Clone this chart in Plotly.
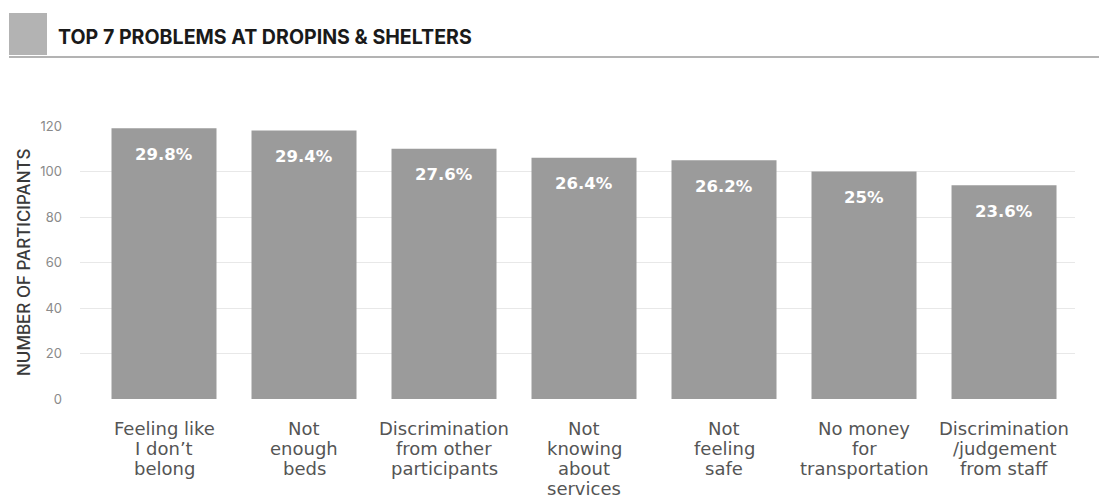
import plotly.graph_objects as go

# Survey data: top problems reported at drop-ins and shelters
categories = [
    ["Feeling like", "I don\u2019t", "belong"],
    ["Not", "enough", "beds"],
    ["Discrimination", "from other", "participants"],
    ["Not", "knowing", "about", "services"],
    ["Not", "feeling", "safe"],
    ["No money", "for", "transportation"],
    ["Discrimination", "/judgement", "from staff"],
]
participants = [119, 118, 110, 106, 105, 100, 94]
pct_labels = ["29.8%", "29.4%", "27.6%", "26.4%", "26.2%", "25%", "23.6%"]
y_ticks = [0, 20, 40, 60, 80, 100, 120]

x_pos = list(range(len(categories)))

W, H = 1099, 500
pl, pr, pt, pb = 80, 24, 126, 101
pw, ph = W - pl - pr, H - pt - pb


def px_x(x):
    return (x - pl) / pw


def px_y(y):
    return (H - pb - y) / ph


fig = go.Figure()
fig.add_trace(go.Bar(
    x=x_pos,
    y=participants,
    width=0.75,
    marker=dict(color="#9b9b9b", line=dict(width=0)),
    hoverinfo="skip",
))

# percentage labels just inside the top of each bar
for xi, v, lab in zip(x_pos, participants, pct_labels):
    fig.add_annotation(
        x=xi, y=v, text=lab, showarrow=False,
        yanchor="middle", yshift=-26,
        font=dict(family="DejaVu Sans, sans-serif", size=16.5, color="white", weight=600),
    )

# multi-line category labels under each bar
for xi, lines in zip(x_pos, categories):
    for li, line in enumerate(lines):
        fig.add_annotation(
            x=xi, xref="x", y=0, yref="paper",
            text=line, showarrow=False,
            xanchor="center", yanchor="middle",
            yshift=-(29 + li * 20),
            font=dict(family="DejaVu Sans, sans-serif", size=18, color="#555555"),
        )

# vertical axis title
fig.add_annotation(
    xref="paper", yref="paper", x=px_x(24), y=px_y(262),
    text="NUMBER OF PARTICIPANTS", textangle=-90, showarrow=False,
    xanchor="center", yanchor="middle",
    font=dict(family="Inter, Lato, sans-serif", size=17, color="#3a3a3a", weight=500),
)

# header: square marker, title and rule
fig.add_shape(type="rect", xref="paper", yref="paper",
              x0=px_x(9), x1=px_x(47), y0=px_y(55), y1=px_y(13),
              fillcolor="#b3b3b3", line=dict(width=0), layer="above")
fig.add_shape(type="line", xref="paper", yref="paper",
              x0=px_x(9), x1=px_x(1099), y0=px_y(57), y1=px_y(57),
              line=dict(color="#9a9a9a", width=1.5), layer="above")
fig.add_annotation(
    xref="paper", yref="paper", x=px_x(56), y=px_y(37),
    xanchor="left", yanchor="middle", showarrow=False,
    text="<b>TOP 7 PROBLEMS AT DROPINS &amp; SHELTERS</b>",
    font=dict(family="Inter, Lato, sans-serif", size=19.6, color="#1a1a1a"),
)

fig.update_layout(
    width=W, height=H,
    margin=dict(l=pl, r=pr, t=pt, b=pb),
    plot_bgcolor="white", paper_bgcolor="white",
    showlegend=False,
    bargap=0.25,
    xaxis=dict(
        range=[-0.6, 6.507],
        showticklabels=False,
        showgrid=False, zeroline=False, showline=False, ticks="",
    ),
    yaxis=dict(
        range=[0, 120],
        tickmode="array", tickvals=y_ticks,
        showgrid=True, gridcolor="#e8e8e8", gridwidth=1,
        zeroline=False, showline=False, ticks="",
        ticklabelstandoff=17,
        tickfont=dict(family="Inter, Roboto, sans-serif", size=13, color="#8a8a8a"),
    ),
)

fig.write_html("out.html")
